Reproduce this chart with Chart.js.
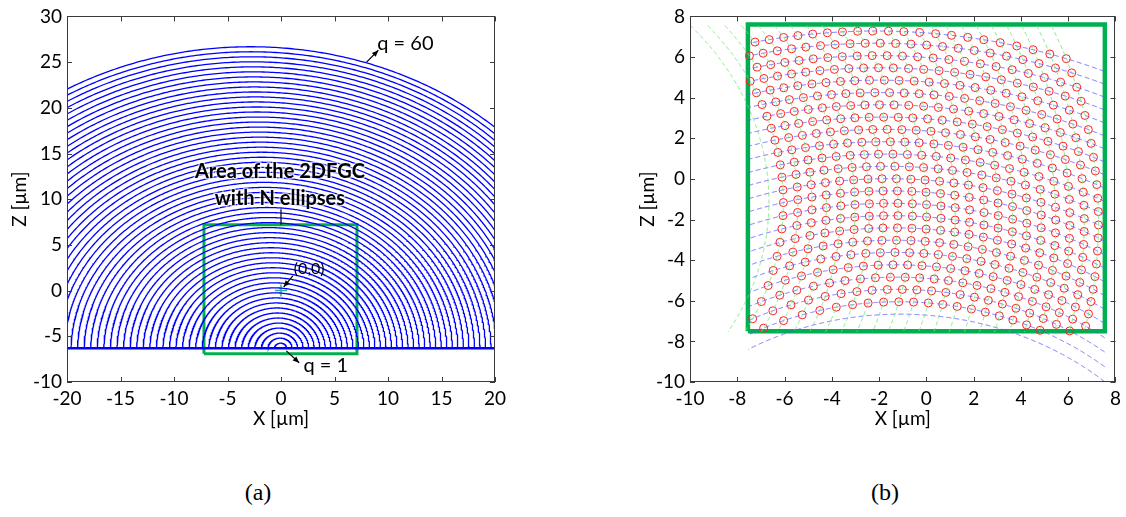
<!DOCTYPE html>
<html><head><meta charset="utf-8">
<script src="https://cdn.jsdelivr.net/npm/chart.js@4/dist/chart.umd.min.js"></script>
<style>
html,body{margin:0;padding:0;background:#fff}
body{width:1126px;height:517px;overflow:hidden;position:relative}
canvas{position:absolute;top:0}
.cap{position:absolute;top:479px;font-family:'Liberation Serif',serif;font-size:24px;color:#000;transform:translateX(-50%)}
</style></head><body>
<canvas id="ca" width="560" height="430" style="left:0px"></canvas>
<canvas id="cb" width="506" height="430" style="left:620px"></canvas>
<div class="cap" style="left:258px">(a)</div>
<div class="cap" style="left:885px">(b)</div>
<script>
// ---------------- data ----------------
const xTicksA = [-20,-15,-10,-5,0,5,10,15,20];
const zTicksA = [-10,-5,0,5,10,15,20,25,30];
const xTicksB = [-10,-8,-6,-4,-2,0,2,4,6,8];
const zTicksB = [-10,-8,-6,-4,-2,0,2,4,6,8];

// panel (a): apex height z of each elliptical grating line, q = 1 ... 60
const ringApexA = [-5.75,-5.20,-4.65,-4.10,-3.55,-3.00,-2.45,-1.90,-1.35,-0.80,
 -0.25,0.30,0.85,1.40,1.95,2.50,3.04,3.59,4.14,4.69,
 5.24,5.79,6.34,6.89,7.44,7.99,8.54,9.09,9.64,10.19,
 10.74,11.29,11.84,12.39,12.94,13.49,14.04,14.59,15.14,15.69,
 16.24,16.79,17.34,17.89,18.44,18.99,19.54,20.09,20.64,21.19,
 21.73,22.28,22.83,23.38,23.93,24.48,25.03,25.58,26.13,26.68];
const focusA = [0, -6.3];          // common focus on the waveguide line
const shapeA = [0.0856, 0.0243];   // ellipse eccentricity components (x, z)
const baselineA = [[-20,-6.3],[20,-6.3]];
const boxAx = [-7.2, 7.1, 7.1, -7.2, -7.2];
const boxAz = [-6.9, -6.9, 7.2, 7.2, -6.9];
const originA = [0, 0];

// panel (b): apex of each row (blue) and each column (green)
const rowApexB = [-6.66,-6.05,-5.44,-4.84,-4.23,-3.62,-3.02,-2.41,-1.81,-1.20,-0.59,
 0.01,0.62,1.22,1.83,2.44,3.04,3.65,4.25,4.86,5.47,6.07,6.68,7.28];
const colApexB = [-6.66,-6.05,-5.44,-4.84,-4.23,-3.62,-3.02,-2.41,-1.81,-1.20,-0.59,
 0.01,0.62,1.22,1.83,2.44,3.04,3.65,4.25,4.86,5.47,6.07,6.68,7.28];
const firstScattererRow = 1, firstScattererCol = 1;   // rows/cols that carry scatterers
const focusRowB = [0, -22.1];
const focusColB = [-22.1, 0];
const shapeBp = [0.0724, -0.1745];
const boxBx = [-7.55, 7.55, 7.55, -7.55, -7.55];
const boxBz = [-7.5, -7.5, 7.6, 7.6, -7.5];
const lineSpanB = [-7.55, 7.55];

// ---------------- geometry helpers ----------------
function g(phi, s){ return 1/(1 + s[0]*Math.cos(phi) + s[1]*Math.sin(phi)); }
function peakOf(s){ let m=0; for(let i=0;i<=3600;i++){ const p=Math.PI*i/3600; m=Math.max(m, Math.sin(p)*g(p,s)); } return m; }
const PEAK_A = peakOf(shapeA), PEAK_B = peakOf(shapeBp);
function arc(c, f, s, swap, n){
  const pts=[];
  for(let i=0;i<=n;i++){
    const p=Math.PI*i/n, r=c*g(p,s);
    const a=r*Math.cos(p), b=r*Math.sin(p);
    pts.push(swap ? {x:f[0]+b, y:f[1]+a} : {x:f[0]+a, y:f[1]+b});
  }
  return pts;
}
function intersect(ci, cj, s){
  let x=0, z=0;
  for(let k=0;k<50;k++){
    const dx1=x-focusRowB[0], dz1=z-focusRowB[1], dx2=x-focusColB[0], dz2=z-focusColB[1];
    const r1=Math.hypot(dx1,dz1), r2=Math.hypot(dx2,dz2);
    const f1=r1+s[0]*dx1+s[1]*dz1-ci;
    const f2=r2+s[0]*dz2+s[1]*dx2-cj;
    const a11=dx1/r1+s[0], a12=dz1/r1+s[1];
    const a21=dx2/r2+s[1], a22=dz2/r2+s[0];
    const det=a11*a22-a12*a21;
    x -= ( a22*f1 - a12*f2)/det;
    z -= (-a21*f1 + a11*f2)/det;
  }
  return {x, y:z};
}

// ---------------- plugins ----------------
const frame = {
  id:'frame',
  afterDraw(chart){
    const {ctx, chartArea:a, scales:{x,y}} = chart;
    const o = chart.options.plugins.frame;
    ctx.save();
    ctx.strokeStyle='#3a3a3a'; ctx.lineWidth=1;
    ctx.strokeRect(Math.round(a.left)+0.5, Math.round(a.top)+0.5, Math.round(a.right-a.left)-1, Math.round(a.bottom-a.top)-1);
    ctx.beginPath();
    const L=5;
    o.xt.forEach(v=>{const px=Math.round(x.getPixelForValue(v))+0.5; ctx.moveTo(px,a.bottom); ctx.lineTo(px,a.bottom-L); ctx.moveTo(px,a.top); ctx.lineTo(px,a.top+L);});
    o.zt.forEach(v=>{const py=Math.round(y.getPixelForValue(v))+0.5; ctx.moveTo(a.left,py); ctx.lineTo(a.left+L,py); ctx.moveTo(a.right,py); ctx.lineTo(a.right-L,py);});
    ctx.stroke();
    ctx.restore();
  }
};
function arrow(ctx, x1,y1,x2,y2){
  ctx.beginPath(); ctx.moveTo(x1,y1); ctx.lineTo(x2,y2); ctx.stroke();
  const ang=Math.atan2(y2-y1,x2-x1), h=7;
  ctx.beginPath(); ctx.moveTo(x2,y2);
  ctx.lineTo(x2-h*Math.cos(ang-0.4), y2-h*Math.sin(ang-0.4));
  ctx.lineTo(x2-h*Math.cos(ang+0.4), y2-h*Math.sin(ang+0.4));
  ctx.closePath(); ctx.fill();
}
const notes = {
  id:'notes',
  afterDatasetsDraw(chart){
    if(!chart.options.plugins.notes.on) return;
    const {ctx, scales:{x,y}} = chart;
    const X=v=>x.getPixelForValue(v), Y=v=>y.getPixelForValue(v);
    ctx.save();
    ctx.fillStyle='#000'; ctx.strokeStyle='#000'; ctx.lineWidth=1.2;
    ctx.textBaseline='middle';
    ctx.font='20px Lato';
    ctx.textAlign='left';
    ctx.fillText('q = 60', X(9.0), Y(27.0));
    arrow(ctx, X(8.0), Y(25.0), X(9.1), Y(26.3));
    ctx.fillText('q = 1', X(2.1), Y(-8.2));
    arrow(ctx, X(0.5), Y(-6.6), X(1.7), Y(-7.9));
    ctx.font='16px Lato';
    ctx.fillText('(0,0)', X(1.2), Y(2.4));
    arrow(ctx, X(1.1), Y(1.6), X(0.25), Y(0.4));
    ctx.font='bold 20px Lato';
    ctx.textAlign='center';
    ctx.lineWidth=3; ctx.strokeStyle='rgba(255,255,255,0.6)';
    ctx.strokeText('Area of the 2DFGC', X(-0.1), Y(13.0));
    ctx.strokeText('with N ellipses', X(-0.1), Y(10.1));
    ctx.fillText('Area of the 2DFGC', X(-0.1), Y(13.0));
    ctx.fillText('with N ellipses', X(-0.1), Y(10.1));
    ctx.strokeStyle='#000'; ctx.lineWidth=1.2;
    ctx.beginPath(); ctx.moveTo(X(0), Y(8.9)); ctx.lineTo(X(0), Y(7.2)); ctx.stroke();
    ctx.restore();
  }
};

function scaleCfg(min,max,ticks,title,w,h,titlePad){
  return {
    type:'linear', min, max,
    afterBuildTicks:s=>{ s.ticks = ticks.map(v=>({value:v})); },
    afterFit:s=>{ if(w!=null) s.width=w; if(h!=null) s.height=h; },
    grid:{drawOnChartArea:false, drawTicks:false},
    border:{display:false},
    ticks:{color:'#000', font:{family:'Lato', size:19}, padding:5, autoSkip:false, maxRotation:0, callback:v=>String(v)},
    title:{display:true, text:title, color:'#000', font:{family:'Lato', size:19}, padding:titlePad}
  };
}
function baseOpts(xs, ys, pad, xt, zt, notesOn){
  return {
    responsive:false, animation:false, events:[],
    layout:{padding:pad},
    scales:{x:xs, y:ys},
    plugins:{legend:{display:false}, tooltip:{enabled:false}, frame:{xt, zt}, notes:{on:notesOn}},
    elements:{point:{radius:0}, line:{tension:0}}
  };
}

// ---------------- chart (a) ----------------
const dsA = [];
ringApexA.forEach(ap=>{
  const c = (ap - focusA[1])/PEAK_A;
  dsA.push({data:arc(c, focusA, shapeA, false, 400), borderColor:'#0000ff', borderWidth:1.3, showLine:true, pointRadius:0});
});
dsA.push({data:baselineA.map(p=>({x:p[0], y:p[1]})), borderColor:'#0000ff', borderWidth:2.5, showLine:true, pointRadius:0});
dsA.push({data:boxAx.map((v,i)=>({x:v, y:boxAz[i]})), borderColor:'#00b050', borderWidth:3, showLine:true, pointRadius:0});
dsA.push({data:[{x:originA[0], y:originA[1]}], showLine:false, pointStyle:'cross', pointRadius:6, borderColor:'#2bb39a', borderWidth:1.5});

new Chart(document.getElementById('ca'), {
  type:'scatter',
  data:{datasets:dsA},
  options: baseOpts(
    scaleCfg(-20,20,xTicksA,'X [µm]',null,48,{top:0,bottom:0}),
    scaleCfg(-10,30,zTicksA,'Z [µm]',67,null,{top:8,bottom:0}),
    {left:0, right:65, top:8, bottom:0}, xTicksA, zTicksA, true),
  plugins:[frame, notes]
});

// ---------------- chart (b) ----------------
const dsB = [];
const colC = colApexB.map(a=>(a - focusColB[0])/PEAK_B);
const rowC = rowApexB.map(a=>(a - focusRowB[1])/PEAK_B);
colC.forEach(c=>{
  const pts = arc(c, focusColB, shapeBp, true, 3000).filter(p=>p.y>=lineSpanB[0] && p.y<=lineSpanB[1]);
  dsB.push({data:pts, borderColor:'rgba(110,230,110,0.9)', borderWidth:1, borderDash:[4,3], showLine:true, pointRadius:0});
});
rowC.forEach(c=>{
  const pts = arc(c, focusRowB, shapeBp, false, 3000).filter(p=>p.x>=lineSpanB[0] && p.x<=lineSpanB[1]);
  dsB.push({data:pts, borderColor:'rgba(90,90,255,0.85)', borderWidth:1, borderDash:[5,3], showLine:true, pointRadius:0});
});
const scat=[];
rowC.forEach((ci,i)=>{ if(i<firstScattererRow) return;
  colC.forEach((cj,j)=>{ if(j<firstScattererCol) return;
    const p=intersect(ci,cj,shapeBp);
    if(p.x>=boxBx[0]-0.05 && p.x<=boxBx[1]+0.05 && p.y>=boxBz[0]-0.1 && p.y<=boxBz[2]+0.05) scat.push(p);
  });
});
dsB.push({data:scat, showLine:false, pointStyle:'circle', pointRadius:4, borderColor:'#ff2020', borderWidth:1, backgroundColor:'rgba(0,0,0,0)'});
dsB.push({data:boxBx.map((v,i)=>({x:v, y:boxBz[i]})), borderColor:'#00b050', borderWidth:4.5, showLine:true, pointRadius:0});

new Chart(document.getElementById('cb'), {
  type:'scatter',
  data:{datasets:dsB},
  options: baseOpts(
    scaleCfg(-10,8,xTicksB,'X [µm]',null,48,{top:0,bottom:0}),
    scaleCfg(-10,8,zTicksB,'Z [µm]',70,null,{top:16,bottom:0}),
    {left:0, right:7, top:7, bottom:0}, xTicksB, zTicksB, false),
  plugins:[frame, notes]
});
</script>
</body></html>
